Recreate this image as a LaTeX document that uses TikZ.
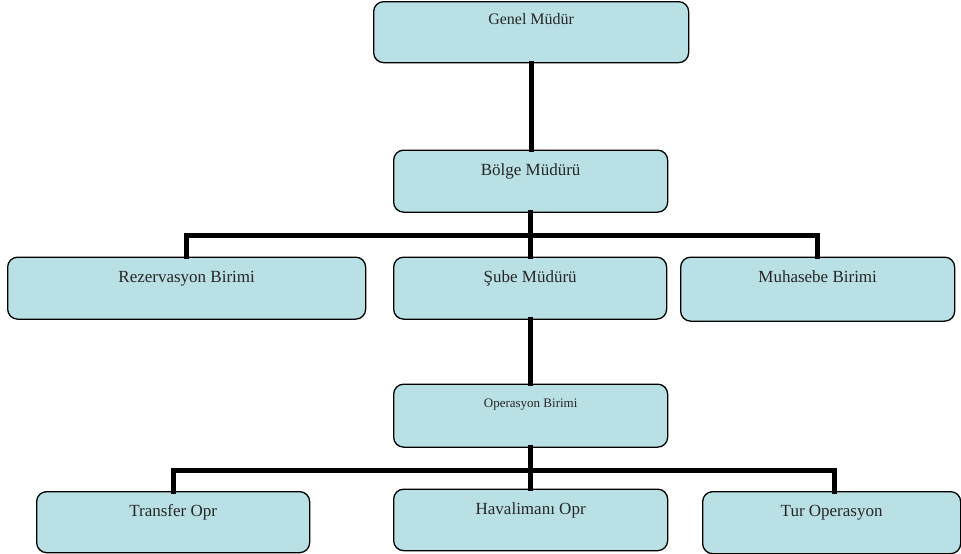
\documentclass[tikz,border=0pt]{standalone}
\usepackage{fontspec}
\setmainfont{Liberation Serif}
\definecolor{boxfill}{RGB}{185,224,228}
\tikzset{
  box/.style={draw=black, fill=boxfill, rounded corners=10pt, line width=1.3pt,
    inner sep=0pt, anchor=north west, align=center,
    font=\fontsize{17}{20}\selectfont, text=black!85},
  conn/.style={line width=5pt, line join=miter, line cap=rect},
}
\begin{document}
\begin{tikzpicture}[x=1pt, y=-1pt]
\useasboundingbox (0,0) rectangle (961,554);
% boxes
\node[box, minimum width=315pt, text height=23pt, text depth=38pt, font=\fontsize{16}{19}\selectfont] (genel) at (373,1) {Genel Müdür};
\node[box, minimum width=274pt, text height=25.5pt, text depth=36.5pt] (bolge) at (393,149.5) {Bölge Müdürü};
\node[box, minimum width=358pt, text height=25pt, text depth=37pt] (rez) at (7,256.5) {Rezervasyon Birimi};
\node[box, minimum width=273pt, text height=25pt, text depth=37pt] (sube) at (393,256.5) {Şube Müdürü};
\node[box, minimum width=274pt, text height=25pt, text depth=39pt] (muh) at (680,256.5) {Muhasebe Birimi};
\node[box, minimum width=274pt, text height=23pt, text depth=40pt, font=\fontsize{13}{16}\selectfont] (oper) at (393,383.5) {Operasyon Birimi};
\node[box, minimum width=273pt, text height=25pt, text depth=36pt] (transfer) at (36,491) {Transfer Opr};
\node[box, minimum width=274pt, text height=25.5pt, text depth=36pt] (haval) at (393,488.5) {Havalimanı Opr};
\node[box, minimum width=258pt, text height=25pt, text depth=37pt] (tur) at (702,491) {Tur Operasyon};
% bars
\coordinate (bar2) at (0,235.5);
\coordinate (bar3) at (0,470.5);
% connectors
\begin{scope}[on background layer/.style={}]
\draw[conn] (genel.south) -- (genel.south |- bolge.north);
\draw[conn] (bolge.south) -- (bolge.south |- sube.north);
\draw[conn] (rez.north) -- (rez.north |- bar2) -- (muh.north |- bar2) -- (muh.north);
\draw[conn] (sube.south) -- (sube.south |- oper.north);
\draw[conn] (oper.south) -- (oper.south |- haval.north);
\draw[conn] (transfer.north) -- (transfer.north |- bar3) -- ([xshift=3pt]tur.north |- bar3) -- ([xshift=3pt]tur.north);
\end{scope}
\end{tikzpicture}
\end{document}
